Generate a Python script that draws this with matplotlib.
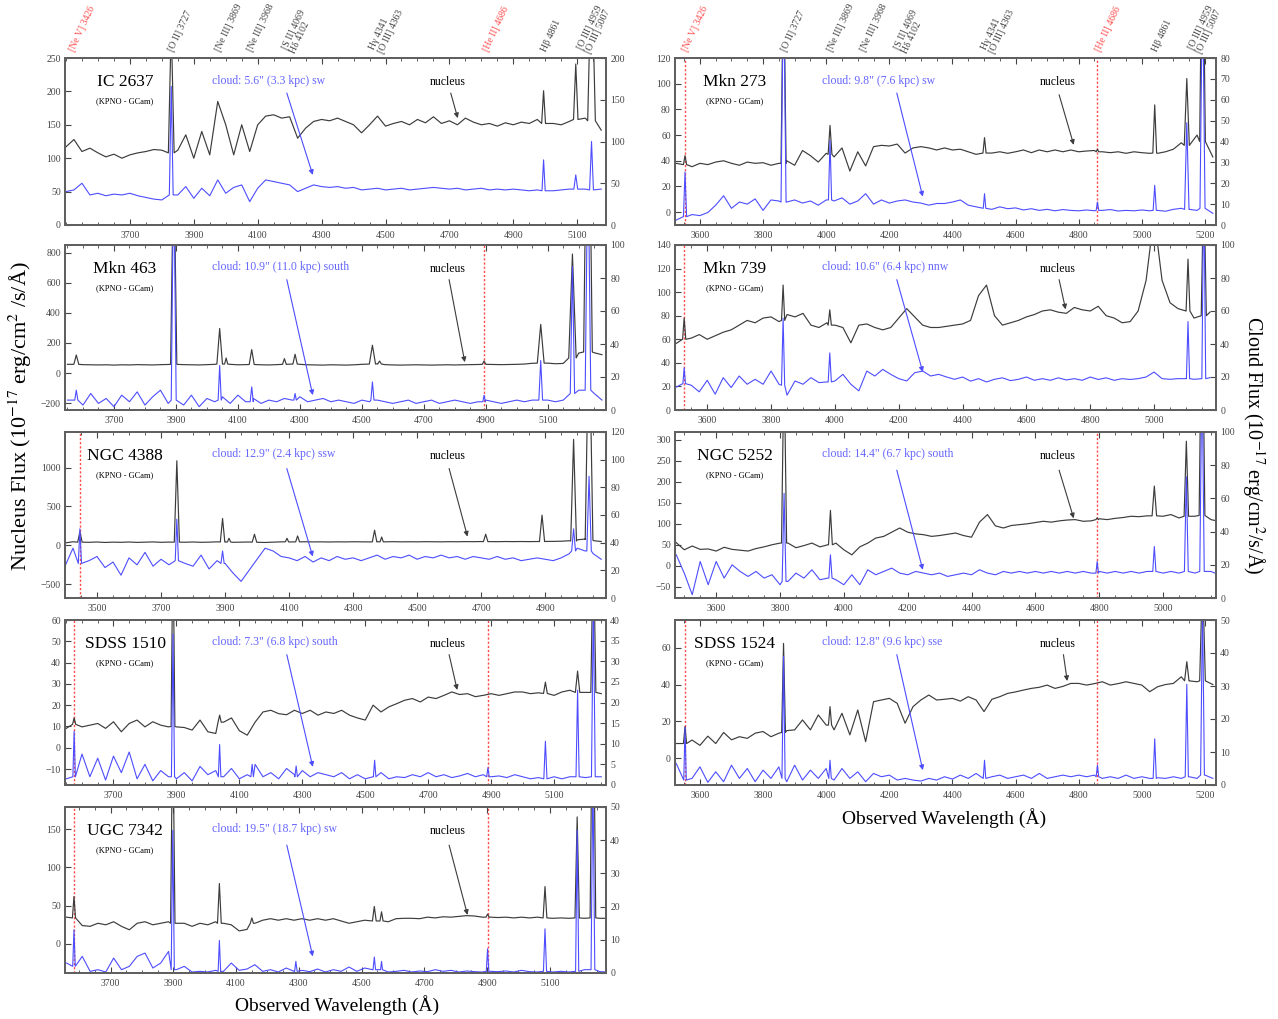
import numpy as np
import matplotlib
matplotlib.use("Agg")
import matplotlib.pyplot as plt
from matplotlib.transforms import blended_transform_factory

plt.rcParams['font.family'] = ['Liberation Serif', 'DejaVu Serif']
plt.rcParams['mathtext.fontset'] = 'stix'

STEP = 25  # spacing of the tabulated continuum samples (Angstrom)
REST_NEV, REST_HEII = 3426, 4686

# emission lines are listed as (rest wavelength, base level, peak level, half width in A)

# ---------------- IC 2637 ----------------
ic2637_z = 0.0275
ic2637_start = 3500
ic2637_nuc = [117, 128, 110, 115, 108, 102, 106, 100, 105, 108,
              110, 113, 112, 105, 112, 135, 100, 140, 105, 185,
              150, 105, 150, 110, 150, 163, 165, 160, 162, 130,
              145, 155, 158, 156, 160, 155, 150, 138, 150, 163,
              148, 152, 155, 150, 158, 153, 162, 152, 156, 150,
              160, 154, 150, 152, 148, 153, 150, 154, 152, 158,
              150, 152, 150, 155, 160, 160, 150, 142]
ic2637_cld = [40, 42, 50, 36, 38, 35, 37, 36, 38, 35,
              33, 31, 30, 38, 36, 46, 32, 44, 35, 54,
              38, 45, 48, 28, 44, 54, 52, 50, 48, 40,
              44, 48, 46, 45, 46, 44, 45, 42, 43, 44,
              42, 43, 44, 42, 43, 44, 45, 44, 43, 44,
              42, 43, 44, 42, 43, 42, 43, 42, 41, 42,
              41, 41, 42, 43, 44, 43, 42, 43]
ic2637_nuc_lines = [(3727, 108, 300, 9), (4861, 152, 201, 6), (4959, 158, 241, 7), (5007, 156, 400, 12)]
ic2637_cld_lines = [(3727, 36, 166, 6), (4861, 41, 78, 5), (4959, 43, 60, 6), (5007, 42, 100, 6)]

# ---------------- Mkn 463 ----------------
mkn463_z = 0.0445
mkn463_start = 3550
mkn463_nuc = [58, 60, 56, 55, 54, 55, 53, 55, 54, 56,
              55, 54, 56, 57, 58, 56, 55, 54, 56, 58,
              60, 58, 55, 56, 57, 55, 54, 56, 58, 60,
              58, 55, 54, 53, 55, 54, 53, 55, 58, 62,
              62, 56, 54, 53, 54, 55, 54, 53, 54, 55,
              54, 55, 56, 57, 58, 57, 56, 57, 58, 60,
              65, 70, 66, 62, 64, 90, 133, 150, 135, 122]
mkn463_cld = [6, 8, 3, 10, 4, 7, 2, 9, 5, 11,
              3, 8, 12, 4, 6, 3, 9, 2, 7, 5,
              8, 4, 9, 5, 7, 4, 6, 5, 7, 6,
              8, 5, 6, 7, 5, 6, 5, 4, 6, 5,
              6, 5, 4, 5, 6, 4, 5, 6, 4, 5,
              6, 5, 4, 5, 6, 5, 4, 5, 6, 5,
              6, 8, 6, 5, 6, 10, 12, 14, 10, 6]
mkn463_nuc_lines = [(3426, 58, 120, 8), (3727, 58, 1500, 10), (3869, 60, 296, 9), (3889, 60, 100, 5),
                    (3968, 57, 156, 8), (4069, 58, 96, 6), (4102, 60, 125, 7), (4341, 60, 185, 10),
                    (4363, 60, 80, 6), (4686, 58, 80, 6), (4861, 66, 323, 11), (4959, 100, 790, 12),
                    (5007, 140, 2500, 14)]
mkn463_cld_lines = [(3426, 6, 12, 5), (3727, 6, 150, 8), (3869, 6, 27, 5), (3968, 5, 14, 5),
                    (4102, 6, 10, 4), (4341, 6, 17, 5), (4686, 5, 9, 4), (4861, 6, 30, 6),
                    (4959, 10, 87, 7), (5007, 12, 160, 9)]

# ---------------- NGC 4388 ----------------
ngc4388_z = 0.006
ngc4388_start = 3400
ngc4388_nuc = [30, 45, 40, 38, 42, 36, 40, 38, 42, 37,
               40, 43, 38, 41, 40, 39, 42, 38, 40, 44,
               42, 38, 40, 42, 38, 36, 40, 44, 42, 44,
               45, 43, 44, 42, 44, 43, 45, 44, 43, 45,
               44, 46, 44, 45, 44, 46, 45, 44, 46, 45,
               47, 46, 48, 47, 46, 48, 47, 48, 47, 48,
               49, 50, 52, 58, 70, 80, 60, 48]
ngc4388_cld = [23, 36, 22, 27, 30, 22, 26, 16.5, 29, 24,
               33, 23, 28, 24, 29, 25, 23, 31, 21, 27,
               25, 18, 12, 20, 28, 36, 34, 30, 29, 27,
               30, 26, 29, 27, 30, 28, 29, 27, 29, 31,
               28, 30, 29, 31, 28, 30, 29, 31, 29, 30,
               28, 30, 29, 28, 30, 28, 29, 27, 28, 29,
               28, 27, 29, 32, 36, 34, 32, 28]
ngc4388_nuc_lines = [(3426, 40, 172, 7), (3727, 40, 1089, 8), (3869, 42, 345, 7), (3889, 42, 90, 5),
                     (3968, 40, 142, 7), (4069, 44, 90, 5), (4102, 44, 120, 6), (4341, 44, 194, 7),
                     (4363, 44, 106, 5), (4686, 46, 142, 7), (4861, 48, 388, 8), (4959, 55, 1365, 9),
                     (5007, 75, 3000, 12)]
ngc4388_cld_lines = [(3426, 25, 50, 5), (3727, 27, 57, 5), (3869, 25, 34, 5), (4959, 34, 50, 6),
                     (5007, 34, 88, 7)]

# ---------------- SDSS 1510 ----------------
sdss1510_z = 0.0435
sdss1510_start = 3550
sdss1510_nuc = [9.1, 11, 9.8, 10.6, 11.4, 9.1, 12.2, 7.5, 11.4, 13.0,
                9.8, 12.2, 10.6, 9.8, 9.8, 9.5, 8.3, 13.0, 7.5, 6.7,
                12, 14, 8, 5.9, 12, 16.8, 17.6, 16, 15.5, 17.6,
                16.1, 17.6, 15.3, 16.8, 16.1, 17.6, 15.3, 14.0, 13, 20,
                16.8, 19.2, 20.7, 22.3, 23.1, 21.5, 23.8, 23.1, 24.6, 26.2,
                25, 25.4, 24, 24.6, 25.4, 24.6, 25.4, 26.2, 26.2, 25.4,
                25.8, 25, 24.6, 26.2, 27, 25.4, 26, 26, 25.4]
sdss1510_cld = [1.5, 2, 7.5, 2, 6.5, 1.2, 7, 3, 8, 1.5,
                5, 1, 3.5, 2, 1.5, 3, 1, 4.5, 2.5, 3.5,
                2, 4, 1.5, 2.5, 5, 2, 3, 1.5, 4, 2.5,
                3.5, 2, 3, 2.5, 2, 3, 1.5, 2.5, 1.5, 2,
                3, 1.5, 2, 1.8, 2.5, 2, 3, 2, 2.5, 1.8,
                2.2, 2.8, 2, 2.5, 2, 2.2, 1.8, 2.5, 2, 1.5,
                1.8, 1.5, 2, 1.5, 2, 2, 1.8, 2, 2]
sdss1510_nuc_lines = [(3426, 11, 14, 5), (3727, 10, 100, 6), (3869, 12, 15.3, 5), (4861, 25.5, 30.8, 6),
                      (4959, 26, 36, 7), (5007, 26, 100, 8)]
sdss1510_cld_lines = [(3426, 2, 13, 4), (3727, 2, 36.6, 5), (3869, 2, 9.8, 4), (3968, 2, 5, 4),
                      (4102, 2, 4.6, 4), (4341, 2, 6, 4), (4686, 2, 4.2, 4), (4861, 1.5, 10.6, 5),
                      (4959, 2, 23, 5), (5007, 2, 45, 6)]

# ---------------- UGC 7342 ----------------
ugc7342_z = 0.046
ugc7342_start = 3560
ugc7342_nuc = [35, 34, 24, 23, 27, 25, 29, 23, 18.5, 27,
               29, 25, 27, 29, 27, 27, 23, 27, 25, 29,
               27, 25, 17, 19, 27, 31, 33, 31, 33, 31,
               33, 31, 33, 31, 33, 30, 27, 29, 31, 30,
               30, 29, 33, 33.5, 33.5, 33, 35, 34, 35.5, 35,
               36, 37, 36.5, 35, 35, 34.5, 35, 34, 35, 34,
               35, 34, 33.5, 34, 33.5, 34, 33.5, 34, 33.5, 33.5]
ugc7342_cld = [3, 2, 5, 0.5, 1, 0.3, 4.5, 1, 2, 5,
               6, 1.5, 3, 6.5, 1, 2, 0.3, 0.5, 0.3, 0.8,
               0.5, 3, 0.8, 1.2, 2.5, 0.5, 1, 0.3, 1.5, 0.5,
               0.8, 0.4, 1.2, 0.3, 1, 0.5, 1.8, 0.5, 1.5, 1,
               1, 0.3, 0.5, 0.8, 0.3, 0.6, 0.4, 1, 0.5, 0.8,
               0.3, 0.6, 0.4, 0.3, 0.5, 0.4, 0.6, 0.3, 0.8, 0.4,
               0.3, 0.5, 0.3, 0.5, 0.3, 0.5, 1, 1, 0.4, 0.3]
ugc7342_nuc_lines = [(3426, 34, 62, 5), (3727, 27, 300, 7), (3869, 27, 79, 6), (3968, 27, 34, 5),
                     (4341, 30, 49, 6), (4363, 30, 42, 5), (4686, 35, 39, 5), (4861, 34, 75, 6),
                     (4959, 34, 166, 7), (5007, 34, 400, 9)]
ugc7342_cld_lines = [(3426, 2, 13, 4), (3727, 1, 43, 5), (3869, 0.5, 9.8, 4), (4102, 0.5, 3.5, 4),
                     (4341, 1, 4.8, 4), (4363, 1, 3.5, 3), (4686, 0.5, 7.3, 4), (4861, 0.5, 13.3, 5),
                     (4959, 0.5, 43, 5), (5007, 1, 60, 6)]

# ---------------- Mkn 273 ----------------
mkn273_z = 0.037
mkn273_start = 3525
mkn273_nuc = [38, 37, 35.4, 38, 37, 39, 40, 38, 36.5, 39,
              38, 38.5, 36.5, 38, 40, 36.5, 48, 44, 39, 45.8,
              43, 50, 32, 47, 36, 51, 52, 51.5, 53, 46,
              50, 51, 50, 48.4, 50, 48.4, 49, 47, 45, 46,
              46, 47, 45.8, 47, 48.4, 46.3, 48.4, 47, 48.4, 47,
              48.4, 47, 47.6, 48, 47, 46.3, 47, 45.8, 47, 46.3,
              45.8, 45.8, 47, 49, 54, 55, 60, 60, 43]
mkn273_cld = [2.4, 1, 5, 4.5, 6, 9.5, 14, 8, 11, 10,
              12.5, 7, 12, 11.5, 11, 12, 10.5, 11.5, 9.5, 12,
              11.5, 13, 10, 11.5, 15, 10, 12, 10.5, 11.5, 12,
              11, 10.5, 9.5, 10.3, 10.3, 11, 12, 9.5, 8.7, 8,
              7.5, 8.7, 7.8, 8.2, 7.2, 7.8, 7, 7.5, 6.8, 7.4,
              7, 6.8, 7.2, 6.8, 7, 7.4, 6.7, 7, 6.8, 7.2,
              6.8, 7, 6.6, 7.5, 8, 7.5, 7, 8, 5.6]
mkn273_nuc_lines = [(3426, 37, 44, 5), (3727, 38, 200, 8), (3869, 45, 67.5, 6), (4341, 46, 58, 5),
                    (4686, 47, 49, 4), (4861, 46, 83.5, 6), (4959, 52, 104, 8), (5007, 55, 250, 9)]
mkn273_cld_lines = [(3426, 4, 25.4, 5), (3727, 11, 120, 8), (3869, 12, 40.5, 5), (4341, 8, 15, 4),
                    (4686, 7, 11, 4), (4861, 7, 19, 5), (4959, 7.5, 49, 7), (5007, 8, 120, 8)]

# ---------------- Mkn 739 ----------------
mkn739_z = 0.0297
mkn739_start = 3500
mkn739_nuc = [56, 60, 61, 64, 60, 63, 66, 68, 72, 76,
              74, 78, 79, 75, 81, 79, 82, 72, 70, 74,
              72, 70, 57, 72, 73, 70, 68, 70, 78, 86,
              79, 72, 70, 70, 71, 72, 73, 76, 97, 106,
              80, 72, 74, 76, 79, 81, 84, 85, 83, 82,
              87, 85, 84, 88, 80, 78, 74, 75, 84, 110,
              165, 110, 91, 86, 84, 78, 80, 83]
mkn739_cld = [13.6, 17, 15, 11, 18, 9.6, 19.6, 13.6, 20.6, 15.6,
              18.6, 15.6, 23.6, 15.6, 9, 17.6, 15.6, 19.6, 16.6, 17,
              17.6, 21.6, 15.6, 11.6, 23.6, 20.6, 24.6, 21.6, 19, 17.6,
              22.6, 23.6, 20.6, 21.6, 20, 18.6, 20, 17.5, 19, 17,
              18.6, 19.5, 17.8, 18.6, 20, 18, 19, 18, 19.5, 18.2,
              19, 18, 20, 18.5, 19.5, 18, 19, 18.5, 19, 20,
              23, 19, 18.6, 19, 19, 18.6, 19, 19.6]
mkn739_nuc_lines = [(3426, 60, 78, 5), (3727, 76, 106, 5), (3869, 72, 85, 5), (4959, 84, 128, 6),
                    (5007, 80, 200, 8)]
mkn739_cld_lines = [(3426, 16, 25.6, 4), (3727, 15, 55.6, 5), (3869, 17, 34.6, 5), (4959, 19, 53.6, 5),
                    (5007, 19, 140, 6)]

# ---------------- NGC 5252 ----------------
ngc5252_z = 0.023
ngc5252_start = 3475
ngc5252_nuc = [55, 38, 47, 39, 40, 35, 44, 39, 37, 35,
               41, 45, 50, 54, 54, 43, 48, 54, 45, 50,
               54, 38, 26, 45, 54, 66, 70, 80, 90, 80,
               76, 74, 70, 72, 75, 78, 72, 68, 104, 122,
               95, 90, 96, 98, 100, 103, 106, 104, 107, 109,
               110, 106, 107, 112, 110, 113, 115, 118, 117, 119,
               118, 118, 122, 114, 118, 118, 125, 110, 106]
ngc5252_cld = [26, 15, 2, 22, 8, 22, 12, 20, 16, 13,
               16, 12, 14, 8, 10, 15, 12, 17, 11, 12,
               11, 8, 14, 8, 17, 14, 16, 18, 15, 14,
               16, 15, 14, 15, 13, 14, 15, 14, 17, 15,
               14, 16, 15, 16, 15, 16, 15, 16, 15, 16,
               15, 16, 15, 16, 15, 16, 15, 16, 15, 16,
               16, 15, 16, 15, 16, 15, 16, 16, 14]
ngc5252_nuc_lines = [(3727, 54, 500, 8), (3869, 50, 132, 6), (4686, 110, 114, 4), (4861, 119, 190, 7),
                     (4959, 118, 297, 7), (5007, 120, 700, 9)]
ngc5252_cld_lines = [(3727, 10, 63, 6), (3869, 12, 26, 5), (4686, 15, 22, 4), (4861, 16, 31, 5),
                     (4959, 16, 73, 6), (5007, 16, 140, 7)]

# ---------------- SDSS 1524 ----------------
sdss1524_z = 0.037
sdss1524_start = 3525
sdss1524_nuc = [8, 6, 9.9, 7, 12, 8, 14, 10, 11.7, 10.8,
                13.6, 14.5, 11.7, 13.6, 15, 15.4, 20.8, 15.4, 23.5, 18,
                15.4, 24.4, 12.7, 26.2, 9, 30.7, 31.6, 32.5, 29.8, 19,
                28, 31.6, 34.3, 31.6, 32, 32.5, 31, 33.4, 31.6, 25.3,
                32, 33.4, 35.2, 36, 37, 37.9, 38.5, 39.7, 37.9, 39,
                40.6, 40.6, 39.7, 40.5, 41.5, 39.7, 40.5, 41.5, 40.6, 39.7,
                36.1, 38.8, 40, 40.6, 44.2, 42, 41.5, 42, 40]
sdss1524_cld = [6.5, 1, 2, 5.5, 0.8, 4, 1, 6, 2, 5,
                1, 4.5, 2, 5.5, 1, 6, 1.5, 4.5, 2, 5,
                1.5, 5, 2, 4, 1, 3.5, 2.5, 3, 1.5, 2,
                1.5, 1.2, 2, 1.5, 2.5, 1.8, 3, 2, 3.5, 2,
                2.5, 3, 2, 2.5, 3, 2, 3.5, 2, 2.5, 3,
                2.5, 3, 2.5, 3, 2, 2.5, 2, 3, 2, 2.5,
                2, 2.2, 2, 2.5, 2, 2.5, 2, 3, 2]
sdss1524_nuc_lines = [(3426, 8, 17.2, 5), (3727, 14, 62.3, 6), (3869, 18, 28, 5), (4959, 42, 52.4, 7),
                      (5007, 42, 100, 9)]
sdss1524_cld_lines = [(3426, 1.5, 17.5, 4), (3727, 2, 39, 5), (3869, 2, 7.5, 4), (4341, 2, 7.5, 4),
                      (4686, 2.5, 6, 4), (4861, 2, 14, 5), (4959, 2.5, 30.5, 5), (5007, 3, 55, 6)]

# labels along the top of each column: (text, rest wavelength, highlighted)
top_labels = [("[Ne V] 3426", 3426, True), ("[O II] 3727", 3727, False),
              ("[Ne III] 3869", 3869, False), ("[Ne III] 3968", 3968, False),
              ("[S II] 4069\nH\u03b4 4102", 4085, False), ("H\u03b3 4341\n[O III] 4363", 4352, False),
              ("[He II] 4686", 4686, True), ("H\u03b2 4861", 4861, False),
              ("[O III] 4959\n[O III] 5007", 4983, False)]

panels = [
    dict(name='IC 2637', z=ic2637_z, start=ic2637_start, nuc=ic2637_nuc, cld=ic2637_cld,
         nl=ic2637_nuc_lines, cl=ic2637_cld_lines, cloud='cloud: 5.6" (3.3 kpc) sw',
         xlim=(3497, 5190), xt=(3700, 5100), ylim=(0, 250), yt=(0, 250, 50), rlim=(0, 200), rt=(0, 200, 50), vl=[]),
    dict(name='Mkn 463', z=mkn463_z, start=mkn463_start, nuc=mkn463_nuc, cld=mkn463_cld,
         nl=mkn463_nuc_lines, cl=mkn463_cld_lines, cloud='cloud: 10.9" (11.0 kpc) south',
         xlim=(3542, 5288), xt=(3700, 5100), ylim=(-245, 850), yt=(-200, 800, 200), rlim=(0, 100), rt=(0, 100, 20),
         vl=[REST_HEII]),
    dict(name='NGC 4388', z=ngc4388_z, start=ngc4388_start, nuc=ngc4388_nuc, cld=ngc4388_cld,
         nl=ngc4388_nuc_lines, cl=ngc4388_cld_lines, cloud='cloud: 12.9" (2.4 kpc) ssw',
         xlim=(3400, 5090), xt=(3500, 4900), ylim=(-680, 1460), yt=(-500, 1000, 500), rlim=(0, 120), rt=(0, 120, 20),
         vl=[REST_NEV]),
    dict(name='SDSS 1510', z=sdss1510_z, start=sdss1510_start, nuc=sdss1510_nuc, cld=sdss1510_cld,
         nl=sdss1510_nuc_lines, cl=sdss1510_cld_lines, cloud='cloud: 7.3" (6.8 kpc) south',
         xlim=(3546, 5265), xt=(3700, 5100), ylim=(-17.5, 60), yt=(-10, 60, 10), rlim=(0, 40), rt=(0, 40, 5),
         vl=[REST_NEV, REST_HEII]),
    dict(name='UGC 7342', z=ugc7342_z, start=ugc7342_start, nuc=ugc7342_nuc, cld=ugc7342_cld,
         nl=ugc7342_nuc_lines, cl=ugc7342_cld_lines, cloud='cloud: 19.5" (18.7 kpc) sw',
         xlim=(3555, 5279), xt=(3700, 5100), ylim=(-38, 179), yt=(0, 150, 50), rlim=(0, 50), rt=(0, 50, 10),
         vl=[REST_NEV, REST_HEII]),
    dict(name='Mkn 273', z=mkn273_z, start=mkn273_start, nuc=mkn273_nuc, cld=mkn273_cld,
         nl=mkn273_nuc_lines, cl=mkn273_cld_lines, cloud='cloud: 9.8" (7.6 kpc) sw',
         xlim=(3521, 5235), xt=(3600, 5200), ylim=(-10, 120), yt=(0, 120, 20), rlim=(0, 80), rt=(0, 80, 10),
         vl=[REST_NEV, REST_HEII]),
    dict(name='Mkn 739', z=mkn739_z, start=mkn739_start, nuc=mkn739_nuc, cld=mkn739_cld,
         nl=mkn739_nuc_lines, cl=mkn739_cld_lines, cloud='cloud: 10.6" (6.4 kpc) nnw',
         xlim=(3499, 5194), xt=(3600, 5000), ylim=(0, 140), yt=(0, 140, 20), rlim=(0, 100), rt=(0, 100, 20),
         vl=[REST_NEV]),
    dict(name='NGC 5252', z=ngc5252_z, start=ngc5252_start, nuc=ngc5252_nuc, cld=ngc5252_cld,
         nl=ngc5252_nuc_lines, cl=ngc5252_cld_lines, cloud='cloud: 14.4" (6.7 kpc) south',
         xlim=(3471, 5166), xt=(3600, 5000), ylim=(-77, 319), yt=(-50, 300, 50), rlim=(0, 100), rt=(0, 100, 20),
         vl=[REST_HEII]),
    dict(name='SDSS 1524', z=sdss1524_z, start=sdss1524_start, nuc=sdss1524_nuc, cld=sdss1524_cld,
         nl=sdss1524_nuc_lines, cl=sdss1524_cld_lines, cloud='cloud: 12.8" (9.6 kpc) sse',
         xlim=(3521, 5235), xt=(3600, 5200), ylim=(-14.5, 75), yt=(0, 60, 20), rlim=(0, 50), rt=(0, 50, 10),
         vl=[REST_NEV, REST_HEII]),
]

# layout (pixels of the 1278x1019 canvas) and arrow placement in axes fractions
W, H = 1278, 1019
AX_W = 541
slots = [(65, 58, 225), (65, 245, 410), (65, 432, 598), (65, 620, 785), (65, 807, 973),
         (675, 58, 225), (675, 245, 410), (675, 432, 598), (675, 620, 785)]
arrows = [((0.713, 0.79), (0.726, 0.64), (0.41, 0.79), (0.458, 0.30)),
          ((0.71, 0.79), (0.739, 0.29), (0.41, 0.79), (0.458, 0.09)),
          ((0.71, 0.78), (0.744, 0.37), (0.41, 0.78), (0.458, 0.25)),
          ((0.71, 0.79), (0.725, 0.576), (0.41, 0.79), (0.458, 0.11)),
          ((0.71, 0.77), (0.744, 0.35), (0.41, 0.77), (0.458, 0.10)),
          ((0.71, 0.78), (0.737, 0.48), (0.41, 0.79), (0.458, 0.17)),
          ((0.71, 0.79), (0.722, 0.61), (0.41, 0.79), (0.458, 0.23)),
          ((0.71, 0.77), (0.737, 0.48), (0.41, 0.77), (0.458, 0.17)),
          ((0.718, 0.79), (0.725, 0.63), (0.41, 0.79), (0.458, 0.09))]

NUC_C = '#3c3c3c'
CLD_C = '#4d4dff'
CLD_TXT = '#6666ff'
RED = '#ff4a4a'
GREY = '#444444'


def build(start, vals, lines, z):
    lam = start + STEP * np.arange(len(vals))
    flux = np.asarray(vals, dtype=float)
    keep = np.ones(len(lam), dtype=bool)
    xs, ys = [], []
    for rest, base, peak, hw in lines:
        c = rest * (1 + z)
        keep &= np.abs(lam - c) > hw
        xs += [c - hw, c, c + hw]
        ys += [base, peak, base]
    x = np.concatenate([lam[keep], xs])
    y = np.concatenate([flux[keep], ys])
    o = np.argsort(x, kind='stable')
    return x[o], y[o]


fig = plt.figure(figsize=(12.78, 10.19), dpi=100)

for i, p in enumerate(panels):
    x0, top, bot = slots[i]
    ax = fig.add_axes([x0 / W, 1 - bot / H, AX_W / W, (bot - top) / H])
    ax2 = ax.twinx()

    nx, ny = build(p['start'], p['nuc'], p['nl'], p['z'])
    cx, cy = build(p['start'], p['cld'], p['cl'], p['z'])
    for rest in p['vl']:
        ax.axvline(rest * (1 + p['z']), color=RED, ls=(0, (1.6, 1.4)), lw=1.0, zorder=1)
    ax.plot(nx, ny, color=NUC_C, lw=0.85, zorder=2)
    ax2.plot(cx, cy, color=CLD_C, lw=0.8)

    ax.set_xticks(np.arange(p['xt'][0], p['xt'][1] + 1, 200))
    ax.set_xticks(np.arange(3400, 5301, 50), minor=True)
    ax.set_yticks(np.arange(p['yt'][0], p['yt'][1] + 1, p['yt'][2]))
    ax2.set_yticks(np.arange(p['rt'][0], p['rt'][1] + 0.01, p['rt'][2]))
    ax.set_xlim(*p['xlim'])
    ax.set_ylim(*p['ylim'])
    ax2.set_ylim(*p['rlim'])

    ax.tick_params(axis='x', which='both', direction='in', top=True, bottom=True,
                   labelsize=7, colors=GREY, pad=4)
    ax.tick_params(axis='x', which='major', length=4, width=0.8)
    ax.tick_params(axis='x', which='minor', length=2, width=0.6)
    ax.tick_params(axis='y', direction='in', length=4, width=0.8, labelsize=7, colors=GREY, pad=3)
    ax2.tick_params(axis='y', direction='in', length=4, width=0.8, labelsize=7, colors=GREY, pad=3)
    for a in (ax, ax2):
        for s in a.spines.values():
            s.set_linewidth(1.4)
            s.set_color('#606060')

    ax.text(0.111, 0.855, p['name'], transform=ax.transAxes, ha='center', va='center', fontsize=12.5)
    ax.text(0.111, 0.74, '(KPNO - GCam)', transform=ax.transAxes, ha='center', va='center', fontsize=6)
    ax.text(0.272, 0.865, p['cloud'], transform=ax.transAxes, ha='left', va='center',
            fontsize=8.5, color=CLD_TXT)
    ax.text(0.708, 0.855, 'nucleus', transform=ax.transAxes, ha='center', va='center', fontsize=8.5)

    n0, n1, c0, c1 = arrows[i]
    ax.annotate('', xy=n1, xytext=n0, xycoords='axes fraction', textcoords='axes fraction',
                arrowprops=dict(arrowstyle='-|>', color=NUC_C, lw=0.8, mutation_scale=7,
                                shrinkA=0, shrinkB=0))
    ax.annotate('', xy=c1, xytext=c0, xycoords='axes fraction', textcoords='axes fraction',
                arrowprops=dict(arrowstyle='-|>', color=CLD_C, lw=0.8, mutation_scale=7,
                                shrinkA=0, shrinkB=0))

    if top == 58:
        tr = blended_transform_factory(ax.transData, ax.transAxes)
        for txt, rest, hot in top_labels:
            ax.text(rest * (1 + p['z']), 1.04, txt, transform=tr, rotation=65,
                    rotation_mode='anchor', ha='left', va='center', fontsize=7,
                    color=RED if hot else GREY, clip_on=False, linespacing=1.0)

fig.text(0.016, 0.592, 'Nucleus Flux (10$^{-17}$ erg/cm$^{2}$ /s/\u00c5)', rotation=90,
         ha='center', va='center', fontsize=16)
fig.text(0.981, 0.563, 'Cloud Flux (10$^{-17}$ erg/cm$^{2}$/s/\u00c5)', rotation=270,
         ha='center', va='center', fontsize=14.5)
fig.text(0.264, 0.014, 'Observed Wavelength (\u00c5)', ha='center', va='center', fontsize=14)
fig.text(0.739, 0.197, 'Observed Wavelength (\u00c5)', ha='center', va='center', fontsize=14)

fig.savefig('out.png', dpi=100)
